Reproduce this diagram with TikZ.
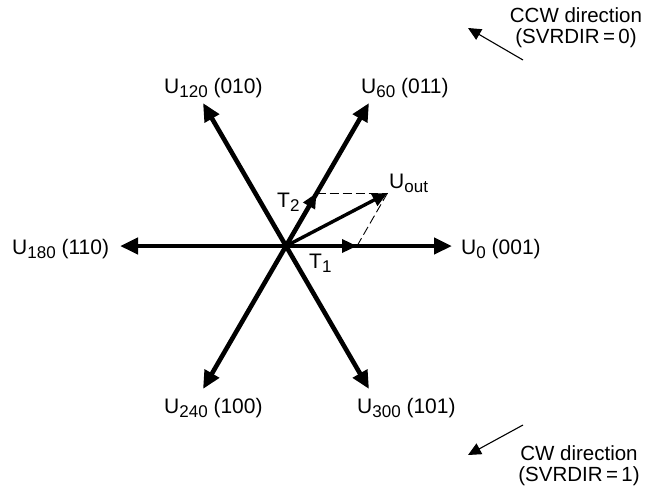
\documentclass[tikz,border=0pt]{standalone}
\usepackage{fontspec}
\setmainfont{Liberation Sans}
\usetikzlibrary{arrows.meta}
\newcommand{\subl}[1]{\raisebox{-4.5pt}{\fontsize{17}{18}\selectfont #1}}
\newcommand{\vlab}[2]{U\subl{#1} (#2)}
\begin{document}
\begin{tikzpicture}[x=1pt,y=-1pt,
  vec/.style={line width=4.6pt,-{Triangle[length=18pt,width=16pt]}},
  tvec/.style={line width=3.4pt,-{Triangle[length=15pt,width=13pt]}},
  dirarr/.style={line width=1.1pt,-{Triangle[length=13pt,width=12pt]}},
  dashline/.style={line width=0.9pt,dash pattern=on 9pt off 4pt},
  lbl/.style={inner sep=0pt,font=\fontsize{21}{24}\selectfont},
  dlbl/.style={inner sep=0pt,align=center,font=\fontsize{20.5}{21}\selectfont},
  every node/.style={text=black}]
\useasboundingbox (0,0) rectangle (646,491);
\coordinate (O) at (286,246);
\coordinate (e0) at (452,246);
\coordinate (e60) at (369,103);
\coordinate (e120) at (203,103);
\coordinate (e180) at (120,246);
\coordinate (e240) at (203,389);
\coordinate (e300) at (369,389);
\coordinate (t1) at (357,246);
\coordinate (t2) at (316.5,193);
\coordinate (uo) at (387.5,193);
\draw[vec] (O) -- (e0);
\draw[vec] (O) -- (e60);
\draw[vec] (O) -- (e120);
\draw[vec] (O) -- (e180);
\draw[vec] (O) -- (e240);
\draw[vec] (O) -- (e300);
\draw[tvec] (O) -- (t1);
\draw[tvec] (O) -- (t2);
\draw[tvec] (O) -- (uo);
\draw[dashline] (t2) -- (uo);
\draw[dashline] (t1) -- (uo);
\fill (O) circle (4.8pt);
\node[lbl,anchor=base west] (l120) at (164,93) {\vlab{120}{010}};
\node[lbl,anchor=base west] (l60) at (361,93) {\vlab{60}{011}};
\node[lbl,anchor=base west] (l180) at (12,254) {\vlab{180}{110}};
\node[lbl,anchor=base west] (l0) at (461,254) {\vlab{0}{001}};
\node[lbl,anchor=base west] (l240) at (164,413) {\vlab{240}{100}};
\node[lbl,anchor=base west] (l300) at (357,413) {\vlab{300}{101}};
\node[lbl,anchor=base west] (lt2) at (277,207) {T\subl{2}};
\node[lbl,anchor=base west] (lt1) at (309,268) {T\subl{1}};
\node[lbl,anchor=base west] (luo) at (389,188) {U\subl{out}};
\node[dlbl] (ccw) at (576,28) {CCW direction\\(SVRDIR\,=\,0)};
\node[dlbl] (cw) at (579,466) {CW direction\\(SVRDIR\,=\,1)};
\coordinate (ccws) at (523,60);
\coordinate (ccwe) at (468,28);
\coordinate (cws) at (523,425);
\coordinate (cwe) at (468,455);
\draw[dirarr] (ccws) -- (ccwe);
\draw[dirarr] (cws) -- (cwe);
\end{tikzpicture}
\end{document}
